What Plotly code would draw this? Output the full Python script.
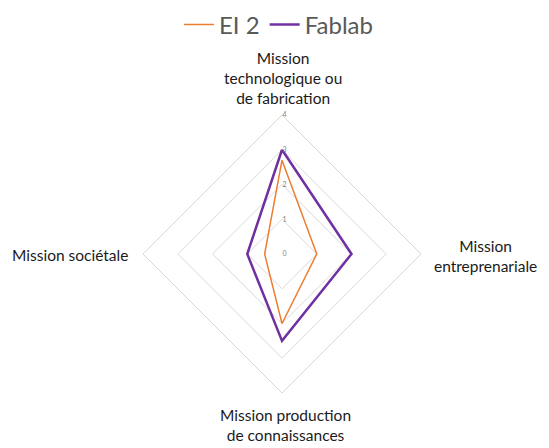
import plotly.graph_objects as go

categories = ['Mission technologique ou de fabrication', 'Mission entreprenariale',
              'Mission production de connaissances', 'Mission sociétale']
label_lines = ['Mission<br>technologique ou<br>de fabrication', 'Mission<br>entreprenariale',
               'Mission production<br>de connaissances', 'Mission sociétale']
ei2 = [2.7, 1, 2, 0.5]
fablab = [3, 2, 2.5, 1]
radial_ticks = [0, 1, 2, 3, 4]

fig = go.Figure()
fig.add_trace(go.Scatterpolar(
    r=ei2 + ei2[:1], theta=categories + categories[:1], name='EI 2',
    mode='lines', line=dict(color='#ED7D31', width=1.5)))
fig.add_trace(go.Scatterpolar(
    r=fablab + fablab[:1], theta=categories + categories[:1], name='Fablab',
    mode='lines', line=dict(color='#7030A0', width=2.5)))

# category labels placed around the diamond (top, right, bottom, left)
label_pos = [(0.5009, 0.8438), (0.8689, 0.4464), (0.5046, 0.0692), (0.1129, 0.4487)]
for txt, (x, y) in zip(label_lines, label_pos):
    fig.add_annotation(text=txt, x=x, y=y, xref='paper', yref='paper',
                       xanchor='center', yanchor='middle', showarrow=False,
                       align='center', font=dict(size=15.5, color='#1a1a1a'))

fig.update_layout(
    width=549, height=448,
    margin=dict(l=0, r=0, t=0, b=0, autoexpand=False),
    paper_bgcolor='white',
    font=dict(family='Lato', color='#000000'),
    legend=dict(orientation='h', x=0.4927, xanchor='center', y=0.962, yanchor='middle',
                font=dict(size=24, color='#595959'), itemwidth=30),
    polar=dict(
        domain=dict(x=[0.2459, 0.7523], y=[0.1406, 0.7612]),
        gridshape='linear',
        bgcolor='white',
        radialaxis=dict(range=[0, 4], tickvals=radial_ticks, angle=90, tickangle=90,
                        showline=False, gridcolor='#D9D9D9', ticks='',
                        ticksuffix='\u00a0' * 13,  # nudges the small labels left of the axis
                        tickfont=dict(size=7, color='#7F7F7F'), side='clockwise'),
        angularaxis=dict(rotation=90, direction='clockwise', showgrid=False,
                         showline=True, linecolor='#D9D9D9', ticks='',
                         showticklabels=False),
    ),
)

fig.write_html("out.html")
